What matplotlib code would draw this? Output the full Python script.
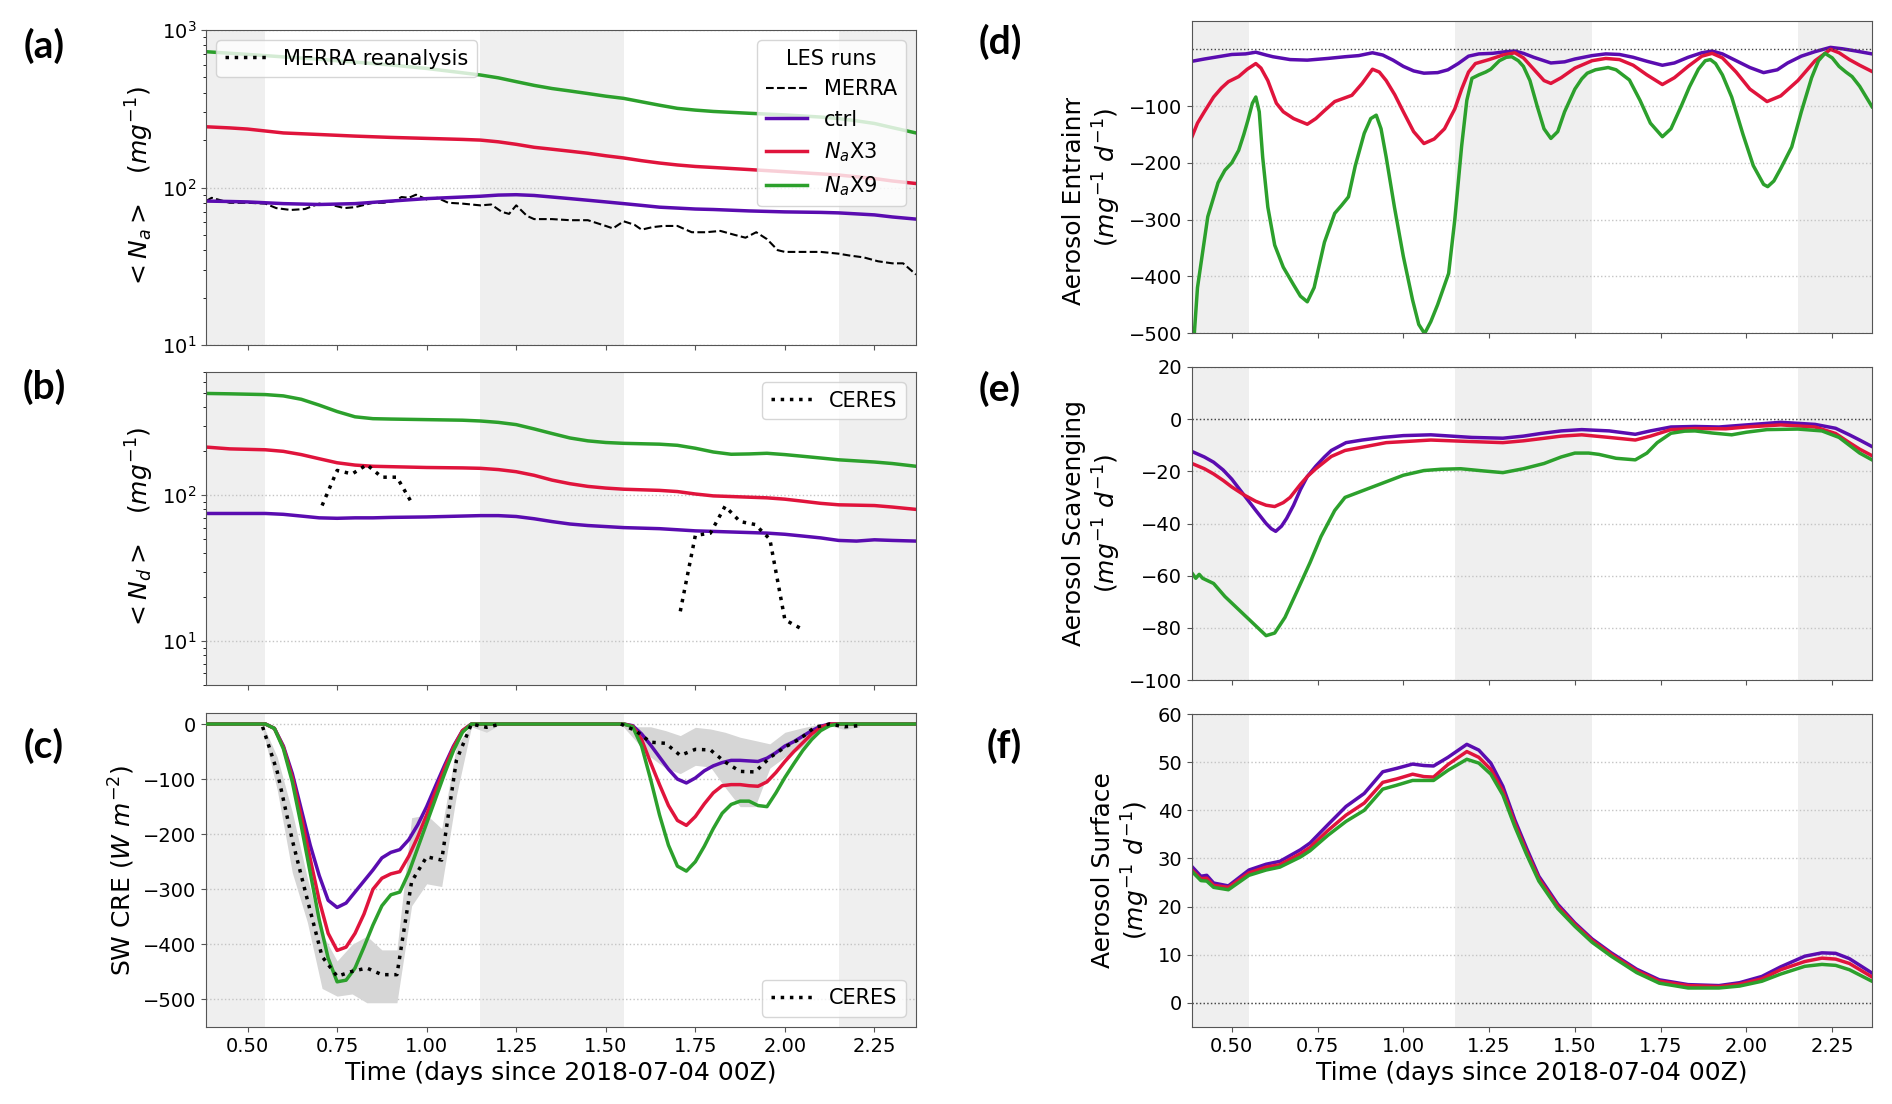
import numpy as np
import matplotlib.pyplot as plt
from matplotlib.lines import Line2D
from matplotlib.transforms import Bbox, TransformedBbox

# x range (days since 2018-07-04 00Z) and night-time shading
t_min, t_max = 0.384, 2.366
night = [(0.30, 0.55), (1.15, 1.55), (2.15, 2.45)]

run_labels = ['ctrl', r'$N_a$X3', r'$N_a$X9']
run_colors = ['#5a0cb0', '#e0143c', '#2ca02c']

# (a) aerosol number
t_na = [0.384, 0.45, 0.5, 0.6, 0.7, 0.8, 0.9, 1.0, 1.1, 1.15, 1.2, 1.25, 1.3, 1.35, 1.4, 1.45,
        1.5, 1.55, 1.6, 1.65, 1.7, 1.75, 1.8, 1.9, 2.0, 2.1, 2.15, 2.2, 2.25, 2.3, 2.366]
na_ctrl = [82, 81.5, 81, 79, 78, 79, 82, 85, 87, 88, 89.5, 90, 89, 87, 85, 83,
           81, 79, 77, 75, 74, 73, 72.5, 71, 70, 69.5, 69, 68, 67, 65, 63]
na_x3 = [243, 239, 235, 222, 217, 212, 208, 205, 202, 200, 195, 188, 180, 175, 170, 165,
         159, 154, 148, 143, 139, 136, 134, 130, 126, 122, 120, 117, 114, 110, 106]
na_x9 = [728, 712, 700, 675, 652, 625, 600, 570, 535, 518, 497, 470, 445, 425, 410, 395,
         380, 368, 350, 333, 318, 310, 304, 296, 289, 280, 274, 265, 255, 240, 222]
t_merra = [0.384, 0.40, 0.45, 0.50, 0.55, 0.58, 0.62, 0.66, 0.70, 0.73, 0.77, 0.80, 0.85, 0.88, 0.91,
           0.93, 0.95, 0.97, 1.00, 1.03, 1.06, 1.10, 1.15, 1.18, 1.21, 1.23, 1.25, 1.28, 1.30, 1.35,
           1.40, 1.45, 1.50, 1.52, 1.55, 1.58, 1.60, 1.63, 1.66, 1.70, 1.74, 1.78, 1.82, 1.86, 1.89,
           1.92, 1.95, 1.98, 2.00, 2.05, 2.10, 2.15, 2.18, 2.22, 2.26, 2.30, 2.33, 2.366]
na_merra = [82, 86, 80, 80, 79, 74, 72, 73, 79, 78, 74, 75, 80, 80, 82,
            87, 86, 90, 84, 86, 80, 79, 77, 78, 70, 68, 77, 66, 63, 63,
            62, 62, 57, 55, 61, 58, 54, 56, 57, 57, 52, 52, 53, 50, 48,
            52, 47, 40, 39, 39, 39, 38, 37, 36, 34, 33, 33, 28]

# (b) droplet number
t_nd = [0.384, 0.45, 0.55, 0.6, 0.65, 0.7, 0.75, 0.8, 0.85, 0.9, 1.0, 1.1, 1.15, 1.2, 1.25, 1.3,
        1.35, 1.4, 1.45, 1.5, 1.55, 1.65, 1.7, 1.75, 1.8, 1.85, 1.9, 1.95, 2.0, 2.05, 2.1, 2.15,
        2.2, 2.25, 2.3, 2.366]
nd_ctrl = [75, 75, 75, 74, 72, 70, 69.5, 70, 70, 70.5, 71, 72, 72.5, 72.5, 71.5, 69,
           66, 63.5, 62, 61, 60, 59, 58, 57, 56.5, 56, 55.5, 55, 54, 52.5, 51, 49,
           48.5, 49.5, 49, 48.5]
nd_x3 = [214, 208, 205, 200, 190, 178, 167, 161, 158, 157, 155, 154, 153, 150, 145, 137,
         127, 120, 115, 112, 110, 108, 106, 102, 99, 98, 97, 96, 94, 91, 88, 86,
         85.5, 85, 83, 80]
nd_x9 = [499, 496, 490, 480, 455, 415, 375, 345, 335, 333, 330, 327, 323, 316, 305, 285,
         265, 247, 236, 230, 227, 224, 220, 210, 198, 191, 192, 194, 190, 185, 180, 175,
         172, 169, 165, 158]
t_ceres_nd1 = [0.708, 0.75, 0.792, 0.833, 0.875, 0.917, 0.958]
nd_ceres1 = [85, 148, 140, 162, 133, 133, 89]
t_ceres_nd2 = [1.708, 1.75, 1.792, 1.833, 1.875, 1.917, 1.958, 2.0, 2.042]
nd_ceres2 = [16, 53, 55, 84, 66, 63, 50, 14, 12.3]

# (c) SW cloud radiative effect
t_cre = [0.384, 0.5,
         0.55, 0.575, 0.6, 0.625, 0.65, 0.675, 0.7, 0.725, 0.75, 0.775, 0.8, 0.825,
         0.85, 0.875, 0.9, 0.925, 0.95, 0.975, 1.0, 1.025, 1.05, 1.075, 1.1, 1.125,
         1.15, 1.3, 1.45,
         1.55, 1.575, 1.6, 1.625, 1.65, 1.675, 1.7, 1.725, 1.75, 1.775, 1.8, 1.825, 1.85,
         1.875, 1.9, 1.925, 1.95, 1.975, 2.0, 2.025, 2.05, 2.075, 2.1, 2.125, 2.15,
         2.25, 2.366]
cre_ctrl = [0, 0,
            0, -8, -40, -90, -155, -220, -275, -320, -333, -325, -305, -285,
            -265, -243, -233, -228, -210, -183, -150, -112, -75, -40, -12, 0,
            0, 0, 0,
            0, -3, -18, -38, -60, -82, -100, -107, -98, -85, -76, -70, -66,
            -66, -67, -68, -62, -52, -40, -32, -22, -12, -4, 0, 0,
            0, 0]
cre_x3 = [0, 0,
          0, -8, -42, -97, -168, -245, -320, -380, -411, -405, -380, -345,
          -300, -280, -272, -268, -240, -205, -165, -122, -80, -42, -12, 0,
          0, 0, 0,
          0, -4, -28, -70, -110, -148, -175, -184, -168, -145, -125, -112, -110,
          -110, -112, -113, -105, -88, -68, -50, -34, -18, -6, 0, 0,
          0, 0]
cre_x9 = [0, 0,
          0, -8, -45, -105, -185, -270, -355, -425, -468, -465, -443, -405,
          -365, -330, -310, -305, -270, -225, -180, -135, -90, -48, -15, 0,
          0, 0, 0,
          0, -5, -40, -100, -165, -220, -258, -267, -250, -222, -190, -162, -146,
          -140, -140, -148, -150, -125, -97, -72, -48, -28, -12, -3, 0,
          0, 0]
t_ceres1 = [0.542, 0.583, 0.625, 0.667, 0.708, 0.75, 0.792, 0.833, 0.875, 0.917, 0.958,
            1.0, 1.042, 1.083, 1.125, 1.167, 1.208]
cre_ceres1 = [-5, -87, -211, -319, -422, -458, -449, -443, -455, -455, -286, -241, -247, -66, 0, -6, 0]
cre_lo1 = [-10, -120, -270, -360, -480, -494, -490, -506, -506, -506, -330, -290, -295, -130, -5, -15, 0]
cre_hi1 = [0, -60, -160, -280, -380, -430, -400, -385, -410, -410, -170, -165, -190, -40, 0, 0, 0]
t_ceres2 = [1.542, 1.583, 1.625, 1.667, 1.708, 1.75, 1.792, 1.833, 1.875, 1.917, 1.958,
            2.0, 2.042, 2.083, 2.125, 2.167, 2.208]
cre_ceres2 = [0, -12, -33, -35, -57, -46, -47, -69, -86, -87, -61, -42, -27, -6, 0, -5, -3]
cre_lo2 = [0, -30, -60, -80, -90, -75, -78, -115, -150, -150, -80, -60, -45, -20, -3, -10, -5]
cre_hi2 = [0, -5, -5, -12, -21, -6, -9, -15, -24, -30, -36, -15, -8, -2, 0, 0, 0]

# (d) aerosol entrainment
t_ent_ctrl = [0.384, 0.42, 0.45, 0.5, 0.54, 0.57, 0.6, 0.62, 0.67, 0.72, 0.78, 0.83, 0.87, 0.91,
              0.94, 0.97, 1.0, 1.03, 1.06, 1.1, 1.13, 1.16, 1.19, 1.22, 1.26, 1.3, 1.325, 1.35,
              1.38, 1.43, 1.47, 1.5, 1.55, 1.59, 1.63, 1.67, 1.71, 1.755, 1.79, 1.83, 1.87, 1.9,
              1.93, 1.97, 2.01, 2.05, 2.09, 2.12, 2.16, 2.2, 2.245, 2.28, 2.32, 2.366]
ent_ctrl = [-21, -17, -14, -9, -8, -5, -10, -13, -18, -19, -16, -13, -11, -6,
            -10, -19, -30, -38, -42, -41, -36, -25, -12, -8, -7, -4, -3, -7,
            -14, -24, -22, -17, -11, -8, -9, -14, -21, -28, -24, -14, -6, -3,
            -8, -20, -32, -41, -36, -24, -12, -4, 3.5, 1, -3, -8]
t_ent_x3 = [0.384, 0.40, 0.42, 0.447, 0.47, 0.49, 0.52, 0.545, 0.57, 0.585, 0.605, 0.63, 0.65,
            0.68, 0.72, 0.745, 0.77, 0.8, 0.85, 0.88, 0.91, 0.93, 0.95, 0.975, 1.0, 1.03, 1.06,
            1.09, 1.12, 1.15, 1.17, 1.19, 1.21, 1.25, 1.29, 1.325, 1.35, 1.38, 1.41, 1.43, 1.46,
            1.5, 1.55, 1.59, 1.63, 1.67, 1.71, 1.755, 1.79, 1.83, 1.87, 1.9, 1.93, 1.97, 2.01,
            2.06, 2.1, 2.15, 2.2, 2.245, 2.27, 2.3, 2.33, 2.366]
ent_x3 = [-154, -130, -110, -84, -68, -57, -48, -35, -25, -33, -55, -95, -110,
          -122, -132, -122, -108, -92, -81, -60, -35, -40, -55, -80, -110, -145, -166,
          -158, -140, -105, -70, -40, -25, -18, -10, -6, -15, -35, -55, -60, -50,
          -33, -20, -16, -18, -28, -45, -62, -50, -30, -12, -7, -15, -40, -70,
          -92, -82, -55, -20, 0, -6, -18, -28, -39]
t_ent_x9 = [0.384, 0.40, 0.43, 0.46, 0.48, 0.5, 0.52, 0.535, 0.547, 0.56, 0.57, 0.58, 0.59,
            0.605, 0.625, 0.65, 0.68, 0.7, 0.72, 0.74, 0.77, 0.8, 0.82, 0.84, 0.86, 0.886,
            0.905, 0.921, 0.935, 0.95, 0.974, 1.0, 1.027, 1.045, 1.062, 1.08, 1.1, 1.132, 1.15,
            1.17, 1.185, 1.2, 1.22, 1.24, 1.255, 1.28, 1.3, 1.316, 1.335, 1.35, 1.369, 1.39,
            1.41, 1.43, 1.45, 1.47, 1.5, 1.52, 1.536, 1.56, 1.597, 1.62, 1.659, 1.69, 1.72,
            1.755, 1.78, 1.81, 1.834, 1.86, 1.88, 1.895, 1.91, 1.93, 1.957, 1.99, 2.02, 2.05,
            2.062, 2.08, 2.1, 2.132, 2.16, 2.19, 2.21, 2.229, 2.25, 2.27, 2.29, 2.308, 2.33,
            2.35, 2.366]
ent_x9 = [-560, -420, -295, -235, -213, -200, -178, -150, -125, -95, -84, -110, -190,
          -278, -345, -384, -415, -435, -445, -420, -340, -289, -275, -260, -205, -148,
          -122, -116, -140, -190, -278, -365, -442, -485, -501, -480, -450, -395, -300,
          -170, -90, -51, -45, -40, -35, -20, -14, -13, -20, -30, -55, -100,
          -140, -157, -145, -110, -70, -52, -42, -36, -32, -36, -54, -90, -130,
          -154, -140, -100, -66, -35, -20, -18, -25, -45, -84, -150, -205, -238,
          -242, -232, -210, -172, -110, -50, -20, -7, -15, -30, -40, -48, -65,
          -85, -101]

# (e) aerosol scavenging
t_scv_ctrl = [0.384, 0.42, 0.447, 0.475, 0.5, 0.535, 0.57, 0.6, 0.615, 0.628, 0.645, 0.66, 0.68,
              0.7, 0.72, 0.745, 0.77, 0.79, 0.833, 0.88, 0.94, 1.0, 1.08, 1.14, 1.2, 1.29, 1.35,
              1.4, 1.46, 1.52, 1.6, 1.676, 1.72, 1.78, 1.85, 1.92, 2.0, 2.1, 2.2, 2.26, 2.3,
              2.33, 2.366]
scv_ctrl = [-12.4, -14.5, -16.5, -19.5, -23, -29, -35, -40, -42, -43, -41, -38, -33,
            -27, -22, -18, -14.5, -12, -9, -8, -7, -6.3, -6, -6.5, -7, -7.3, -6.5,
            -5.5, -4.5, -4, -4.5, -5.8, -4.5, -3, -2.8, -3, -2.2, -1.2, -2, -3.5, -6,
            -8, -10.5]
t_scv_x3 = [0.384, 0.42, 0.447, 0.475, 0.5, 0.535, 0.57, 0.6, 0.625, 0.65, 0.67, 0.7, 0.72,
            0.745, 0.79, 0.83, 0.87, 0.95, 1.08, 1.18, 1.29, 1.35, 1.4, 1.46, 1.52, 1.6, 1.676,
            1.72, 1.78, 1.85, 1.94, 2.0, 2.1, 2.2, 2.26, 2.3, 2.33, 2.366]
scv_x3 = [-17, -19, -21, -23.5, -26, -29, -31.5, -33, -33.5, -32, -30, -25, -22,
          -19, -14.3, -12, -11, -9, -8, -8.5, -9, -8.3, -7.5, -6.5, -6, -7, -8,
          -6.5, -4, -3.6, -3.7, -3, -2.2, -3, -5.5, -9, -11.5, -14]
t_scv_x9 = [0.384, 0.395, 0.405, 0.415, 0.447, 0.48, 0.52, 0.56, 0.6, 0.625, 0.655, 0.69, 0.728,
            0.76, 0.8, 0.83, 0.87, 0.9, 0.94, 1.0, 1.06, 1.11, 1.167, 1.23, 1.29, 1.35, 1.41,
            1.46, 1.5, 1.54, 1.57, 1.62, 1.676, 1.71, 1.74, 1.78, 1.82, 1.85, 1.9, 1.957, 2.0,
            2.06, 2.15, 2.22, 2.27, 2.3, 2.33, 2.366]
scv_x9 = [-59, -61, -59.5, -61, -63, -68, -73, -78, -83, -82, -76, -66, -55,
          -45, -35, -30, -28, -26.5, -24.5, -21.5, -19.7, -19.2, -19, -19.8, -20.5, -19, -17,
          -14.5, -13, -13, -13.5, -15, -15.6, -13, -9, -5.4, -4.6, -4.5, -5.3, -6, -5,
          -4, -3.8, -4.5, -7, -10, -13, -15.6]

# (f) aerosol surface flux
t_srf = [0.384, 0.41, 0.427, 0.447, 0.49, 0.55, 0.6, 0.64, 0.7, 0.728, 0.78, 0.833, 0.886, 0.94,
         0.98, 1.027, 1.06, 1.088, 1.13, 1.185, 1.22, 1.255, 1.29, 1.325, 1.36, 1.395, 1.45, 1.5,
         1.55, 1.606, 1.68, 1.746, 1.83, 1.92, 1.98, 2.045, 2.1, 2.17, 2.22, 2.26, 2.3, 2.366]
srf_ctrl = [28.3, 26.3, 26.5, 24.9, 24.3, 27.6, 28.8, 29.4, 31.8, 33.2, 37, 40.8, 43.5, 48,
            48.7, 49.6, 49.3, 49.2, 51, 53.7, 52.5, 49.8, 45, 38, 32, 26.3, 20.5, 16.6,
            13.3, 10.4, 7, 4.8, 3.8, 3.6, 4.2, 5.5, 7.5, 9.7, 10.4, 10.3, 9.2, 6.2]
srf_x3 = [27.6, 25.8, 25.9, 24.4, 24.0, 27.0, 28.2, 28.7, 31.0, 32.3, 35.8, 39.0, 41.5, 45.8,
          46.5, 47.5, 47.0, 46.9, 49.5, 52.2, 51.0, 48.5, 44, 37.3, 31.3, 25.8, 20.1, 16.3,
          13.0, 10.1, 6.7, 4.5, 3.6, 3.4, 3.9, 5.0, 6.9, 8.6, 9.3, 9.1, 8.2, 5.4]
srf_x9 = [27.3, 25.4, 25.3, 24.0, 23.5, 26.5, 27.6, 28.2, 30.3, 31.6, 34.8, 37.7, 40.0, 44.4,
          45.2, 46.2, 46.2, 46.2, 48.3, 50.6, 49.8, 47.5, 43.2, 36.6, 30.7, 25.3, 19.6, 15.9,
          12.6, 9.7, 6.3, 4.1, 3.1, 3.1, 3.5, 4.5, 6.0, 7.6, 8.0, 7.8, 6.9, 4.5]

plt.rcParams['font.family'] = 'DejaVu Sans'
plt.rcParams['xtick.labelsize'] = 14
plt.rcParams['ytick.labelsize'] = 14
plt.rcParams['legend.fontsize'] = 15
plt.rcParams['legend.title_fontsize'] = 15

fig = plt.figure(figsize=(18.92, 11.04), dpi=100)
W, H = 1892, 1104


def make_ax(x0, x1, y0, y1):
    return fig.add_axes([x0 / W, 1 - y1 / H, (x1 - x0) / W, (y1 - y0) / H])


ax_a = make_ax(206, 916, 30, 345)
ax_b = make_ax(206, 916, 372, 685)
ax_c = make_ax(206, 916, 713, 1027)
ax_d = make_ax(1192, 1872, 21, 333)
ax_e = make_ax(1192, 1872, 367, 680)
ax_f = make_ax(1192, 1872, 714, 1027)
axes = [ax_a, ax_b, ax_c, ax_d, ax_e, ax_f]

for ax in axes:
    for s0, s1 in night:
        ax.axvspan(s0, s1, color='#efefef', zorder=0, lw=0)
    ax.set_xlim(t_min, t_max)
    ax.set_xticks([0.5, 0.75, 1.0, 1.25, 1.5, 1.75, 2.0, 2.25])
    ax.yaxis.grid(True, ls=':', color='#c4c4c4', lw=1)
    ax.set_axisbelow(True)
    for sp in ax.spines.values():
        sp.set_color('#555555')
    ax.tick_params(colors='#555555', labelcolor='k')

for ax in [ax_a, ax_b, ax_d, ax_e]:
    ax.tick_params(labelbottom=False)
for ax in [ax_c, ax_f]:
    ax.set_xlabel('Time (days since 2018-07-04 00Z)', fontsize=18)

lw = 2.5

# (a)
ax_a.set_yscale('log')
ax_a.plot(t_merra, na_merra, color='k', ls='--', lw=1.5)
for vals, c in zip([na_ctrl, na_x3, na_x9], run_colors):
    ax_a.plot(t_na, vals, color=c, lw=lw)
ax_a.set_ylim(10, 1000)
ax_a.set_ylabel(r'$<N_a>\ \ \ (mg^{-1})$', fontsize=18)
leg1 = ax_a.legend([Line2D([], [], color='k', ls=':', lw=lw)], ['MERRA reanalysis'], loc='upper left')
ax_a.add_artist(leg1)
hnd = [Line2D([], [], color='k', ls='--', lw=1.5)] + [Line2D([], [], color=c, lw=lw) for c in run_colors]
ax_a.legend(hnd, ['MERRA'] + run_labels, title='LES runs', loc='upper right')

# (b)
ax_b.set_yscale('log')
for vals, c in zip([nd_ctrl, nd_x3, nd_x9], run_colors):
    ax_b.plot(t_nd, vals, color=c, lw=lw)
ax_b.plot(t_ceres_nd1, nd_ceres1, color='k', ls=':', lw=lw, label='CERES')
ax_b.plot(t_ceres_nd2, nd_ceres2, color='k', ls=':', lw=lw)
ax_b.set_ylim(5, 700)
ax_b.set_ylabel(r'$<N_d>\ \ \ (mg^{-1})$', fontsize=18)
ax_b.legend(loc='upper right')

# (c)
for tt, lo, hi in [(t_ceres1, cre_lo1, cre_hi1), (t_ceres2, cre_lo2, cre_hi2)]:
    ax_c.fill_between(tt, lo, hi, color='#d6d6d6', lw=0, zorder=1)
for vals, c in zip([cre_ctrl, cre_x3, cre_x9], run_colors):
    ax_c.plot(t_cre, vals, color=c, lw=lw, zorder=3)
ax_c.plot(t_ceres1, cre_ceres1, color='k', ls=':', lw=lw, zorder=4, label='CERES')
ax_c.plot(t_ceres2, cre_ceres2, color='k', ls=':', lw=lw, zorder=4)
ax_c.set_ylim(-550, 20)
ax_c.set_yticks([0, -100, -200, -300, -400, -500])
ax_c.set_ylabel(r'SW CRE $(W\ m^{-2})$', fontsize=18)
ax_c.legend(loc='lower right')

# (d)
for tt, vals, c in zip([t_ent_ctrl, t_ent_x3, t_ent_x9], [ent_ctrl, ent_x3, ent_x9], run_colors):
    ax_d.plot(tt, vals, color=c, lw=lw)
ax_d.axhline(0, color='#444444', ls=':', lw=1)
ax_d.set_ylim(-500, 50)
ax_d.set_yticks([-500, -400, -300, -200, -100])
ax_d.set_ylabel('Aerosol Entrainment\n' + r'$(mg^{-1}\ d^{-1})$', fontsize=18)
lab = ax_d.yaxis.label
lab.set_clip_box(TransformedBbox(Bbox([[0, 0], [1, 1 - 98 / H]]), fig.transFigure))
lab.set_clip_on(True)

# (e)
for tt, vals, c in zip([t_scv_ctrl, t_scv_x3, t_scv_x9], [scv_ctrl, scv_x3, scv_x9], run_colors):
    ax_e.plot(tt, vals, color=c, lw=lw)
ax_e.axhline(0, color='#444444', ls=':', lw=1)
ax_e.set_ylim(-100, 20)
ax_e.set_yticks([-100, -80, -60, -40, -20, 0, 20])
ax_e.set_ylabel('Aerosol Scavenging\n' + r'$(mg^{-1}\ d^{-1})$', fontsize=18)

# (f)
for vals, c in zip([srf_ctrl, srf_x3, srf_x9], run_colors):
    ax_f.plot(t_srf, vals, color=c, lw=lw)
ax_f.axhline(0, color='#444444', ls=':', lw=1)
ax_f.set_ylim(-5, 60)
ax_f.set_yticks([0, 10, 20, 30, 40, 50, 60])
ax_f.set_ylabel('Aerosol Surface\n' + r'$(mg^{-1}\ d^{-1})$', fontsize=18)

# panel letters
for txt, x, y in [('(a)', 44, 46), ('(b)', 44, 387), ('(c)', 44, 746),
                  ('(d)', 1000, 42), ('(e)', 1000, 389), ('(f)', 1004, 746)]:
    fig.text(x / W, 1 - y / H, txt, fontsize=28, fontweight='bold', family='Lato',
             ha='center', va='center')

fig.savefig('out.png', dpi=100)
